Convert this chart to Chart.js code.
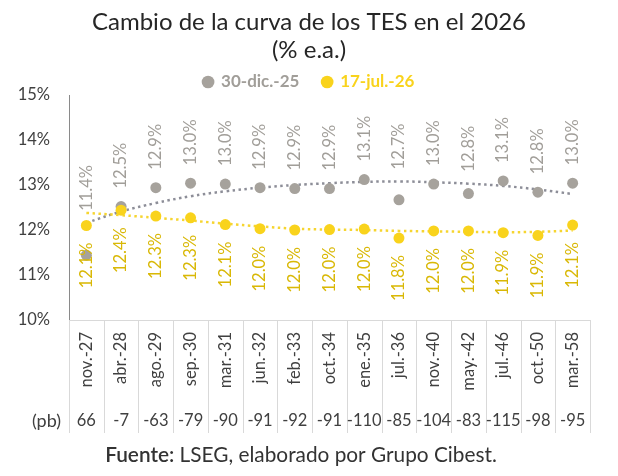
<!DOCTYPE html>
<html><head><meta charset="utf-8">
<script src="https://cdn.jsdelivr.net/npm/chart.js@4.4.1/dist/chart.umd.min.js"></script>
<style>html,body{margin:0;padding:0;background:#fff}</style></head>
<body>
<canvas id="c" width="618" height="476"></canvas>
<script>
const categories = ['nov.-27','abr.-28','ago.-29','sep.-30','mar.-31','jun.-32','feb.-33','oct.-34','ene.-35','jul.-36','nov.-40','may.-42','jul.-46','oct.-50','mar.-58'];
const dic25 = [11.44, 12.52, 12.94, 13.04, 13.02, 12.94, 12.92, 12.92, 13.12, 12.67, 13.02, 12.81, 13.09, 12.84, 13.04];
const jul26 = [12.10, 12.44, 12.31, 12.27, 12.12, 12.03, 12.00, 12.01, 12.02, 11.82, 11.98, 11.98, 11.94, 11.88, 12.11];
const trendDic25 = [12.16, 12.41, 12.60, 12.75, 12.86, 12.94, 13.00, 13.04, 13.07, 13.08, 13.06, 13.03, 12.98, 12.90, 12.80];
const trendJul26 = [12.38, 12.33, 12.27, 12.21, 12.14, 12.08, 12.03, 12.01, 12.00, 11.98, 11.97, 11.96, 11.95, 11.96, 11.99];
const pbChange = [66, -7, -63, -79, -90, -91, -92, -91, -110, -85, -104, -83, -115, -98, -95];
const seriesNames = ['30-dic.-25', '17-jul.-26'];
const titleLines = ['Cambio de la curva de los TES en el 2026', '(% e.a.)'];
const yMin = 10, yMax = 15, yStep = 1;

const GREY = '#a6a29c', GREY_TXT = '#a19e99';
const YEL = '#f9d31c', YEL_TXT = '#d9b806';
const AXIS_TXT = '#404040';
const FONT = 'Lato';

const extrasPlugin = {
  id: 'extras',
  afterDatasetsDraw(chart) {
    const ctx = chart.ctx;
    const mg = chart.getDatasetMeta(0), my = chart.getDatasetMeta(1), tg = chart.getDatasetMeta(2);
    ctx.save();
    ctx.font = '16.5px ' + FONT;
    ctx.textBaseline = 'middle';
    mg.data.forEach((pt, i) => {
      const base = Math.min(pt.y - 18, tg.data[i].y - 12);
      ctx.save(); ctx.translate(pt.x, base); ctx.rotate(-Math.PI / 2);
      ctx.textAlign = 'left'; ctx.fillStyle = GREY_TXT;
      ctx.fillText(dic25[i].toFixed(1) + '%', 0, 0); ctx.restore();
    });
    my.data.forEach((pt, i) => {
      ctx.save(); ctx.translate(pt.x, pt.y + 17); ctx.rotate(-Math.PI / 2);
      ctx.textAlign = 'right'; ctx.fillStyle = YEL_TXT;
      ctx.fillText(jul26[i].toFixed(1) + '%', 0, 0); ctx.restore();
    });
    ctx.restore();
  },
  afterDraw(chart) {
    const ctx = chart.ctx, xs = chart.scales.x, area = chart.chartArea;
    const n = categories.length;
    const w = (area.right - area.left) / n;
    ctx.save();
    ctx.strokeStyle = '#d9d9d9'; ctx.lineWidth = 1;
    for (let i = 0; i <= n; i++) {
      const x = Math.round(i === n ? area.right : xs.getPixelForValue(i) - w / 2) + 0.5;
      ctx.beginPath(); ctx.moveTo(x, area.bottom); ctx.lineTo(x, area.bottom + 113); ctx.stroke();
    }
    ctx.fillStyle = AXIS_TXT; ctx.textBaseline = 'middle';
    ctx.font = '18px ' + FONT;
    ctx.textAlign = 'right'; ctx.fillText('(pb)', area.left - 8, area.bottom + 101);
    ctx.font = '16.5px ' + FONT;
    ctx.textAlign = 'center';
    pbChange.forEach((v, i) => ctx.fillText(String(v), xs.getPixelForValue(i), area.bottom + 101));
    const bold = '600 20.8px ' + FONT, reg = '20.8px ' + FONT;
    const t1 = 'Fuente:', t2 = ' LSEG, elaborado por Grupo Cibest.';
    ctx.font = bold; const w1 = ctx.measureText(t1).width;
    ctx.font = reg; const w2 = ctx.measureText(t2).width;
    const x0 = 301 - (w1 + w2) / 2;
    ctx.textAlign = 'left'; ctx.fillStyle = '#333333';
    ctx.font = bold; ctx.fillText(t1, x0, 455);
    ctx.font = reg; ctx.fillText(t2, x0 + w1, 455);
    ctx.restore();
  }
};

new Chart(document.getElementById('c'), {
  type: 'line',
  data: {
    labels: categories,
    datasets: [
      { label: seriesNames[0], data: dic25, showLine: false, backgroundColor: GREY, borderColor: GREY,
        pointRadius: 5.5, pointHoverRadius: 5.5, pointBorderWidth: 0, order: 1 },
      { label: seriesNames[1], data: jul26, showLine: false, backgroundColor: YEL, borderColor: YEL,
        pointRadius: 5.5, pointHoverRadius: 5.5, pointBorderWidth: 0, order: 0 },
      { label: 'trend1', data: trendDic25, borderColor: '#8d8e98', borderWidth: 2.5, borderDash: [2.5, 3.5],
        pointRadius: 0, tension: 0.4, fill: false, order: 3 },
      { label: 'trend2', data: trendJul26, borderColor: '#f6d530', borderWidth: 2.5, borderDash: [2.5, 3.5],
        pointRadius: 0, tension: 0.4, fill: false, order: 2 }
    ]
  },
  options: {
    responsive: false,
    animation: false,
    events: [],
    layout: { padding: { left: 0, right: 0, top: 0, bottom: 0 } },
    plugins: {
      tooltip: { enabled: false },
      title: {
        display: true, text: titleLines, color: '#262626',
        font: { family: FONT, size: 24, weight: 'normal', lineHeight: 1.1667 },
        padding: { top: 8, bottom: 7.5 }
      },
      legend: {
        display: true,
        maxHeight: 23.5,
        labels: {
          usePointStyle: true, boxWidth: 9, boxHeight: 9, padding: 2,
          font: { family: FONT, size: 17, weight: 'bold' },
          generateLabels(chart) {
            return [0, 1].map(i => {
              const ds = chart.data.datasets[i];
              return { text: i === 0 ? ds.label + '\u2003\u2002' : ds.label, fillStyle: ds.backgroundColor, strokeStyle: ds.backgroundColor,
                lineWidth: 0, pointStyle: 'circle', fontColor: i === 0 ? GREY_TXT : YEL, hidden: false, datasetIndex: i };
            });
          }
        }
      }
    },
    scales: {
      x: {
        type: 'category', offset: true,
        grid: { display: false, drawTicks: false },
        border: { display: true, color: '#d9d9d9', width: 1 },
        ticks: { autoSkip: false, maxRotation: 90, minRotation: 90, padding: 12, color: AXIS_TXT,
          font: { family: FONT, size: 16.5 } },
        afterFit(s) { s.height = 156; }
      },
      y: {
        min: yMin, max: yMax,
        grid: { display: false, drawTicks: false },
        border: { display: true, color: '#8a8a8a', width: 1 },
        ticks: { stepSize: yStep, padding: 19, color: AXIS_TXT, font: { family: FONT, size: 16.5 },
          callback: v => v + '%' },
        afterFit(s) { s.width = 69; }
      },
      yRightSpace: {
        position: 'right', display: true,
        grid: { display: false, drawTicks: false },
        border: { display: false },
        ticks: { display: false },
        afterFit(s) { s.width = 28; }
      }
    }
  },
  plugins: [extrasPlugin]
});
</script>
</body></html>
